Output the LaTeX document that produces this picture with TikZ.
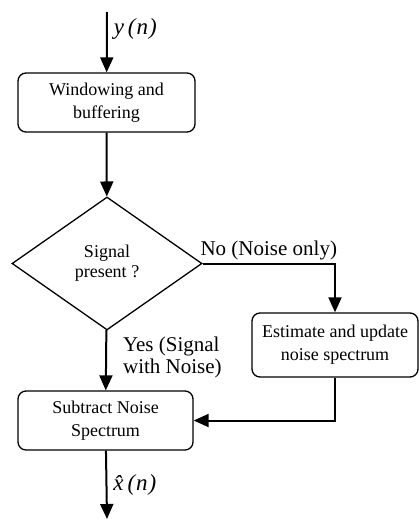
\documentclass[tikz,border=0pt]{standalone}
\usepackage{fontspec}
\setmainfont{Liberation Serif}
\usetikzlibrary{arrows.meta, positioning, shapes.geometric}

\begin{document}
\begin{tikzpicture}[x=1pt, y=-1pt, line width=2pt, -{Triangle[length=15pt,width=13pt]}]
    \tikzstyle{block}=[rectangle, rounded corners=8pt, draw=black, line width=1.3pt, align=center, font=\fontsize{18}{23}\selectfont, inner sep=0pt]
    \tikzstyle{decision}=[diamond, draw=black, line width=1.3pt, align=center, font=\fontsize{18}{20}\selectfont, inner sep=0pt, minimum width=190pt, minimum height=133pt, aspect=1.43]
    \tikzstyle{annot}=[align=left, font=\fontsize{21}{22}\selectfont, inner sep=2pt]
    \tikzstyle{signal}=[font=\fontsize{23}{23}\selectfont\itshape, inner sep=2pt]

    \useasboundingbox (0,0) rectangle (419,519);

    \coordinate (in) at (107,12);
    \node[block, minimum width=177pt, minimum height=59pt] (win) at (106.5,102.5) {Windowing and\\buffering};
    \node[decision] (dec) at (107,263.5) {Signal\\present ?};
    \node[block, minimum width=166pt, minimum height=64pt] (est) at (335,345) {Estimate and update\\noise spectrum};
    \node[block, minimum width=175pt, minimum height=59pt] (sub) at (105.5,420.5) {Subtract Noise\\Spectrum};
    \coordinate (out) at (107,519);

    \draw (in) -- node[signal, right, pos=0.28, xshift=4pt] {y\,(\kern1pt n\kern1pt)} (win);
    \draw (win) -- (dec);
    \draw (dec.east) -| node[annot, above, pos=0.25] {No (Noise only)} (est);
    \draw (dec) -- node[annot, right, pos=0.45, xshift=14pt] {Yes (Signal\\with Noise)} (sub);
    \draw (est.south) |- (sub.east);
    \draw (sub) -- node[signal, right, pos=0.5, xshift=4pt] {\^x\,(\kern1pt n\kern1pt)} (out);
\end{tikzpicture}
\end{document}
